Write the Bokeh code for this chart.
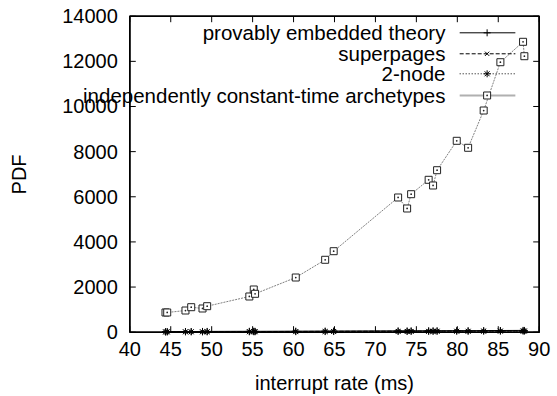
import math
from bokeh.plotting import figure
from bokeh.models import Label, Range1d, Grid, BoxAnnotation
from bokeh.embed import file_html
from bokeh.resources import INLINE

# ---- data ----
rate = [44.36, 44.57, 46.8, 47.5, 48.88, 49.45, 54.6, 55.14, 55.3, 60.27, 63.86, 64.9,
        72.77, 73.87, 74.36, 76.5, 77.04, 77.53, 79.93, 81.32, 83.22, 85.26, 88.03, 88.19]
archetypes = [873, 873, 961, 1108, 1050, 1152, 1582, 1892, 1701, 2423, 3208, 3589,
              5968, 5481, 6114, 6752, 6500, 7177, 8480, 8170, 9822, 11962, 12866, 12228]
provably = [22, 25, 30, 28, 33, 35, 40, 42, 38, 45, 50, 52,
            60, 58, 61, 65, 63, 66, 70, 68, 72, 75, 80, 78]
superpages = [15, 18, 20, 22, 21, 24, 28, 30, 27, 33, 36, 38,
              44, 42, 45, 48, 47, 49, 52, 50, 55, 57, 60, 59]
two_node = [10, 12, 14, 15, 14, 16, 19, 21, 20, 24, 27, 29,
            33, 31, 34, 37, 36, 38, 40, 39, 42, 44, 47, 46]

series_names = ["provably embedded theory", "superpages", "2-node",
                "independently constant-time archetypes"]
x_ticks = [40, 45, 50, 55, 60, 65, 70, 75, 80, 85, 90]
y_ticks = [0, 2000, 4000, 6000, 8000, 10000, 12000, 14000]
x_min, x_max = 40, 90
y_min, y_max = 0, 14000
x_title = "interrupt rate (ms)"
y_title = "PDF"

# ---- layout constants ----
# The frame covers the whole canvas so that the legend may run past the y axis,
# as in the gnuplot original; the plot box, ticks and tick labels are drawn at the
# data box through the figure's scales.
view_x = (24.209, 92.236)
view_y = (-2849, 14696)
tick_len_x = 0.73     # 6 px in x data units
tick_len_y = 266      # 6 px in y data units
x_label_y = -443      # 10 px below the box
y_label_x = 38.535    # 12 px left of the box
x_title_pos = (65, -2260)
y_title_pos = (26.5, 6990)
leg_text_x = 78.55
leg_line_x0 = 80.29
leg_line_x1 = 87.09
leg_mark_x = 83.64
leg_rows_y = [13265, 12335, 11449, 10487]

FONT = "Liberation Sans"
FS = "20px"

p = figure(width=557, height=396, x_range=Range1d(*view_x), y_range=Range1d(*view_y),
           output_backend="svg", toolbar_location=None,
           x_axis_location=None, y_axis_location=None,
           min_border_left=0, min_border_right=0, min_border_top=0, min_border_bottom=0)
p.background_fill_color = "white"
p.border_fill_color = "white"
p.outline_line_color = None
p.center = [c for c in p.center if not isinstance(c, Grid)]

def add_text(x, y, text, align, baseline, size=FS, angle=0):
    p.add_layout(Label(x=x, y=y, text=text, text_align=align, text_baseline=baseline,
                       angle=angle, text_font=FONT, text_font_size=size,
                       text_color="black"))

# ---- series ----
p.line(rate, provably, line_color="black", line_width=1)
p.scatter(rate, provably, marker="cross", size=7, line_color="black")
p.line(rate, superpages, line_color="black", line_width=1, line_dash="4 2")
p.scatter(rate, superpages, marker="x", size=6, line_color="black")
p.line(rate, two_node, line_color="black", line_width=1, line_dash="1 2")
p.scatter(rate, two_node, marker="asterisk", size=7, line_color="black")
p.line(rate, archetypes, line_color="#808080", line_width=1, line_dash="2 1")
p.scatter(rate, archetypes, marker="square_dot", size=7, line_color="#222222",
          fill_color="white", line_width=1)

# ---- legend samples (gnuplot style: sample to the right of the text) ----
p.line([leg_line_x0, leg_line_x1], [leg_rows_y[0]] * 2, line_color="black", line_width=1)
p.scatter([leg_mark_x], [leg_rows_y[0]], marker="cross", size=7, line_color="black")
p.line([leg_line_x0, leg_line_x1], [leg_rows_y[1]] * 2, line_color="black", line_width=1, line_dash="4 2")
p.scatter([leg_mark_x], [leg_rows_y[1]], marker="x", size=6, line_color="black")
p.line([leg_line_x0, leg_line_x1], [leg_rows_y[2]] * 2, line_color="black", line_width=1, line_dash="1 2")
p.scatter([leg_mark_x], [leg_rows_y[2]], marker="asterisk", size=7, line_color="black")
p.line([leg_line_x0, leg_line_x1], [leg_rows_y[3]] * 2, line_color="#b0b0b0", line_width=2)
p.scatter([leg_mark_x], [leg_rows_y[3]], marker="square_dot", size=7, line_color="#222222",
          fill_color="white", line_width=1)

# ---- plot box and inward ticks on all four sides (gnuplot style, mirrored) ----
tick_xs, tick_ys = [], []
for t in x_ticks:
    tick_xs += [[t, t], [t, t]]
    tick_ys += [[y_min, y_min + tick_len_y], [y_max, y_max - tick_len_y]]
for t in y_ticks:
    tick_xs += [[x_min, x_min + tick_len_x], [x_max, x_max - tick_len_x]]
    tick_ys += [[t, t], [t, t]]
p.multi_line(tick_xs, tick_ys, line_color="black", line_width=1)
p.line([x_min, x_max, x_max, x_min, x_min], [y_min, y_min, y_max, y_max, y_min],
       line_color="black", line_width=1.5)
p.add_layout(BoxAnnotation(left=x_min, right=x_max, bottom=y_min, top=y_max,
                           fill_color=None, fill_alpha=0, line_color="black",
                           line_width=1.5, line_alpha=1))

# ---- tick labels, axis titles and legend texts ----
for t in x_ticks:
    add_text(t, x_label_y, str(t), "center", "top")
for t in y_ticks:
    add_text(y_label_x, t, str(t), "right", "middle")
add_text(x_title_pos[0], x_title_pos[1], x_title, "center", "middle")
add_text(y_title_pos[0], y_title_pos[1], y_title, "center", "middle", angle=math.pi / 2)
for i, name in enumerate(series_names):
    add_text(leg_text_x, leg_rows_y[i], name, "right", "middle", size="20.5px")

open("out.html", "w").write(file_html(p, INLINE))
